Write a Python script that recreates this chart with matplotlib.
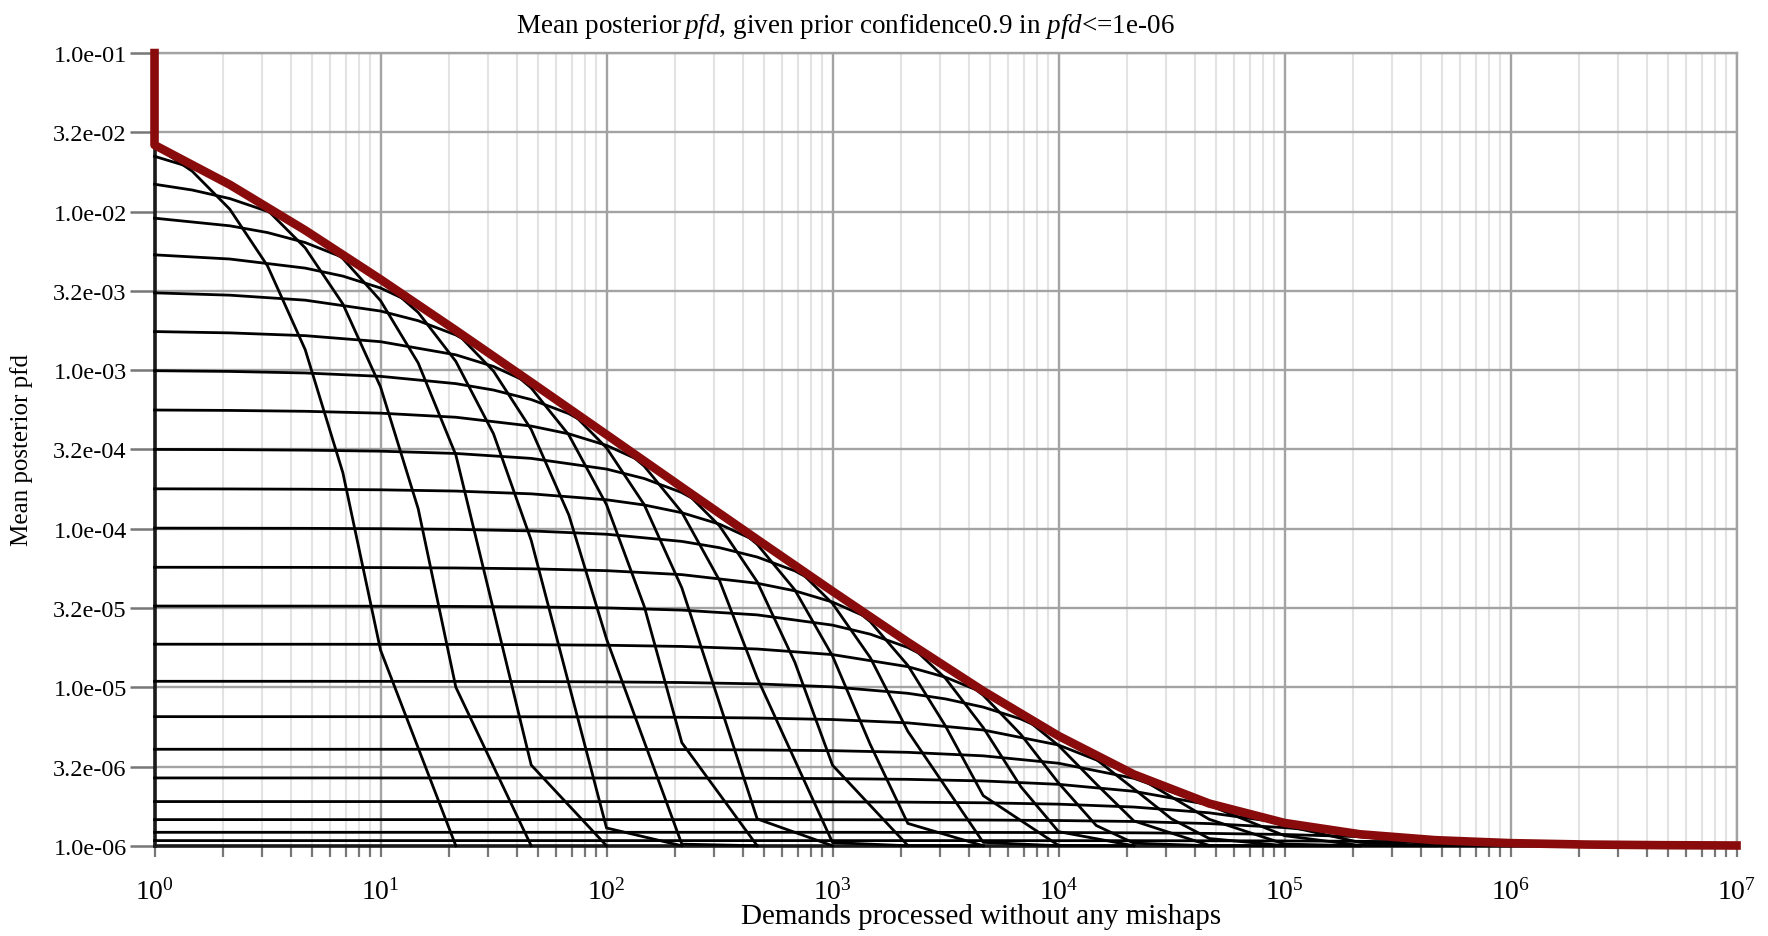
import matplotlib
matplotlib.use("Agg")
import matplotlib.pyplot as plt
from matplotlib.ticker import LogLocator, NullFormatter, FixedLocator

plt.rcParams['font.family'] = ['Liberation Serif', 'DejaVu Serif']
plt.rcParams['mathtext.fontset'] = 'custom'
plt.rcParams['mathtext.rm'] = 'Liberation Serif'
plt.rcParams['mathtext.it'] = 'Liberation Serif:italic'

# demands at which every curve was sampled (1/3 decade steps)
demands = [1, 2.154, 4.642, 10, 21.54, 46.42, 100, 215.4, 464.2, 1000, 2154, 4642,
           1e4, 2.154e4, 4.642e4, 1e5, 2.154e5, 4.642e5, 1e6, 2.154e6, 4.642e6, 1e7]
# extra samples half way, used where a curve bends hard
demands_mid = [1.468, 3.162, 6.813, 14.68, 31.62, 68.13, 146.8, 316.2, 681.3, 1468,
               3162, 6813, 1.468e4, 3.162e4, 6.813e4]

# mean posterior pfd, one curve per alternative pfd value
c01 = [2.608e-2, 1.035e-2, 1.347e-3, 1.715e-5, 1.0e-6]
c02 = [2.233e-2, 1.477e-2, 5.907e-3, 7.84e-4, 1.0e-5, 1.0e-6]
c03 = [1.488e-2, 1.208e-2, 7.621e-3, 2.744e-3, 2.917e-4, 3.23e-6, 1.0e-6]
c04 = [9.091e-3, 8.136e-3, 6.378e-3, 3.730e-3, 1.136e-3, 8.445e-5, 1.295e-6, 1.0e-6]
c05 = [5.337e-3, 5.023e-3, 4.402e-3, 3.297e-3, 1.741e-3, 4.225e-4, 2.016e-5, 1.024e-6, 1.0e-6]
c06 = [3.073e-3, 2.971e-3, 2.763e-3, 2.359e-3, 1.667e-3, 7.72e-4, 1.417e-4, 4.468e-6, 1.0e-6]
c07 = [1.751e-3, 1.718e-3, 1.650e-3, 1.512e-3, 1.249e-3, 8.205e-4, 3.235e-4, 4.235e-5,
       1.477e-6, 1.0e-6]
c08 = [9.919e-4, 9.816e-4, 9.597e-4, 9.140e-4, 8.222e-4, 6.524e-4, 3.918e-4, 1.269e-4,
       1.146e-5, 1.048e-6, 1.0e-6]
c09 = [5.604e-4, 5.571e-4, 5.501e-4, 5.353e-4, 5.046e-4, 4.439e-4, 3.353e-4, 1.805e-4,
       4.623e-5, 3.222e-6, 1.003e-6, 1.0e-6]
c10 = [3.162e-4, 3.152e-4, 3.129e-4, 3.082e-4, 2.982e-4, 2.776e-4, 2.377e-4, 1.690e-4,
       7.97e-5, 1.573e-5, 1.383e-6, 1.0e-6]
c11 = [1.784e-4, 1.781e-4, 1.774e-4, 1.759e-4, 1.727e-4, 1.659e-4, 1.522e-4, 1.261e-4,
       8.31e-5, 3.373e-5, 5.272e-6, 1.051e-6, 1.0e-6]
c12 = [1.008e-4, 1.007e-4, 1.005e-4, 1.0e-4, 9.898e-5, 9.681e-5, 9.226e-5, 8.314e-5,
       6.624e-5, 4.025e-5, 1.373e-5, 2.071e-6, 1.005e-6, 1.0e-6]
c13 = [5.710e-5, 5.707e-5, 5.700e-5, 5.685e-5, 5.652e-5, 5.583e-5, 5.436e-5, 5.131e-5,
       4.527e-5, 3.445e-5, 1.901e-5, 5.566e-6, 1.228e-6, 1.0e-6]
c14 = [3.251e-5, 3.250e-5, 3.248e-5, 3.243e-5, 3.233e-5, 3.211e-5, 3.164e-5, 3.065e-5,
       2.860e-5, 2.464e-5, 1.781e-5, 8.903e-6, 2.490e-6, 1.039e-6, 1.0e-6]
c15 = [1.868e-5, 1.867e-5, 1.867e-5, 1.865e-5, 1.862e-5, 1.855e-5, 1.840e-5, 1.808e-5,
       1.742e-5, 1.606e-5, 1.348e-5, 9.242e-6, 4.290e-6, 1.435e-6, 1.005e-6, 1.0e-6]
c16 = [1.090e-5, 1.090e-5, 1.090e-5, 1.089e-5, 1.088e-5, 1.086e-5, 1.081e-5, 1.071e-5,
       1.050e-5, 1.005e-5, 9.155e-6, 7.491e-6, 4.925e-6, 2.287e-6, 1.111e-6, 1.001e-6, 1.0e-6]
c17 = [6.523e-6, 6.522e-6, 6.522e-6, 6.520e-6, 6.517e-6, 6.510e-6, 6.496e-6, 6.464e-6,
       6.397e-6, 6.255e-6, 5.959e-6, 5.373e-6, 4.320e-6, 2.807e-6, 1.469e-6, 1.025e-6, 1.0e-6]
c18 = [4.062e-6, 4.062e-6, 4.062e-6, 4.061e-6, 4.060e-6, 4.058e-6, 4.054e-6, 4.044e-6,
       4.023e-6, 3.979e-6, 3.885e-6, 3.692e-6, 3.315e-6, 2.664e-6, 1.800e-6, 1.158e-6,
       1.005e-6, 1.0e-6]
c19 = [2.678e-6, 2.678e-6, 2.678e-6, 2.678e-6, 2.677e-6, 2.677e-6, 2.675e-6, 2.673e-6,
       2.666e-6, 2.653e-6, 2.624e-6, 2.564e-6, 2.441e-6, 2.206e-6, 1.814e-6, 1.341e-6,
       1.050e-6, 1.001e-6, 1.0e-6]
c20 = [1.900e-6, 1.900e-6, 1.900e-6, 1.900e-6, 1.900e-6, 1.899e-6, 1.899e-6, 1.898e-6,
       1.897e-6, 1.893e-6, 1.884e-6, 1.867e-6, 1.830e-6, 1.755e-6, 1.614e-6, 1.389e-6,
       1.142e-6, 1.015e-6, 1.0e-6]
c21 = [1.462e-6, 1.462e-6, 1.462e-6, 1.462e-6, 1.462e-6, 1.462e-6, 1.462e-6, 1.462e-6,
       1.461e-6, 1.460e-6, 1.458e-6, 1.454e-6, 1.443e-6, 1.423e-6, 1.380e-6, 1.302e-6,
       1.182e-6, 1.059e-6, 1.005e-6, 1.0e-6]
c22 = [1.216e-6, 1.216e-6, 1.216e-6, 1.216e-6, 1.216e-6, 1.216e-6, 1.216e-6, 1.216e-6,
       1.216e-6, 1.216e-6, 1.215e-6, 1.214e-6, 1.212e-6, 1.207e-6, 1.197e-6, 1.178e-6,
       1.141e-6, 1.085e-6, 1.027e-6, 1.002e-6, 1.0e-6]
c23 = [1.078e-6, 1.078e-6, 1.078e-6, 1.078e-6, 1.078e-6, 1.078e-6, 1.078e-6, 1.078e-6,
       1.078e-6, 1.078e-6, 1.078e-6, 1.078e-6, 1.077e-6, 1.077e-6, 1.075e-6, 1.073e-6,
       1.067e-6, 1.056e-6, 1.038e-6, 1.016e-6, 1.002e-6, 1.0e-6]

# half-way samples of the same curves (first one sits at demands_mid[start])
m01 = [1.798e-2, 4.546e-3, 2.254e-4]
m02 = [1.891e-2, 1.022e-2, 2.615e-3, 1.335e-4]
m03 = [1.368e-2, 1.004e-2, 5.056e-3, 1.109e-3]
m04 = [7.376e-3, 5.141e-3, 2.312e-3, 3.966e-4]
m05 = [3.919e-3, 2.551e-3, 9.859e-4, 1.219e-4]
m06 = [2.050e-3, 1.223e-3, 3.898e-4, 3.240e-5]
m07 = [1.055e-3, 5.645e-4, 1.418e-4]
m08 = [7.49e-4, 5.315e-4, 2.482e-4, 4.713e-5]
m09 = [3.965e-4, 2.614e-4, 1.041e-4, 1.437e-5]
m10 = [2.072e-4, 1.250e-4, 4.11e-5, 4.362e-6]
m11 = [1.411e-4, 1.068e-4, 5.789e-5, 1.539e-5]
m12 = [7.586e-5, 5.419e-5, 2.595e-5, 5.685e-6]
m13 = [4.055e-5, 2.708e-5, 1.137e-5, 2.357e-6]
m14 = [2.161e-5, 1.342e-5, 5.037e-6, 1.343e-6]
m15 = [1.156e-5, 6.699e-6, 2.454e-6]
m16 = [8.439e-6, 6.303e-6, 3.507e-6, 1.478e-6]
mid_start = [0, 0, 0, 1, 2, 3, 4, 4, 5, 6, 6, 7, 8, 9, 10, 10]

# worst case (red) curve, starts with the prior value 0.1 at the first demand
envelope_n = [1, 1, 2.154, 4.642, 10, 21.54, 46.42, 100, 215.4, 464.2, 1000, 2154, 4642,
              1e4, 2.154e4, 4.642e4, 1e5, 2.154e5, 4.642e5, 1e6, 2.154e6, 4.642e6, 1e7]
envelope = [0.1, 2.63e-2, 1.478e-2, 7.626e-3, 3.738e-3, 1.783e-3, 8.383e-4, 3.92e-4,
            1.826e-4, 8.55e-5, 4.03e-5, 1.925e-5, 9.47e-6, 4.93e-6, 2.82e-6, 1.847e-6,
            1.393e-6, 1.182e-6, 1.085e-6, 1.039e-6, 1.018e-6, 1.0085e-6, 1.004e-6]

ytick_vals = [1e-1, 3.162e-2, 1e-2, 3.162e-3, 1e-3, 3.162e-4, 1e-4, 3.162e-5, 1e-5,
              3.162e-6, 1e-6]
ytick_labels = ['1.0e-01', '3.2e-02', '1.0e-02', '3.2e-03', '1.0e-03', '3.2e-04',
                '1.0e-04', '3.2e-05', '1.0e-05', '3.2e-06', '1.0e-06']
xtick_vals = [1, 10, 100, 1e3, 1e4, 1e5, 1e6, 1e7]
xtick_labels = ['$10^{0}$', '$10^{1}$', '$10^{2}$', '$10^{3}$', '$10^{4}$', '$10^{5}$',
                '$10^{6}$', '$10^{7}$']

curves = [c01, c02, c03, c04, c05, c06, c07, c08, c09, c10, c11, c12,
          c13, c14, c15, c16, c17, c18, c19, c20, c21, c22, c23]
mids = [m01, m02, m03, m04, m05, m06, m07, m08, m09, m10, m11, m12, m13, m14, m15, m16]

fig = plt.figure(figsize=(17.68, 9.37), dpi=100)
ax = fig.add_axes([0.0874, 0.0963, 0.8948, 0.846])
ax.set_xscale('log')
ax.set_yscale('log')
ax.set_xlim(1, 1e7)
ax.set_ylim(1e-6, 1e-1)

# ticks and grid
ax.xaxis.set_major_locator(FixedLocator(xtick_vals))
ax.xaxis.set_minor_locator(LogLocator(base=10, subs=range(2, 10), numticks=50))
ax.xaxis.set_minor_formatter(NullFormatter())
ax.set_xticklabels(xtick_labels, fontsize=20)
ax.yaxis.set_major_locator(FixedLocator(ytick_vals))
ax.yaxis.set_minor_locator(FixedLocator([]))
ax.set_yticklabels(ytick_labels, fontsize=17.5)
ax.grid(True, which='major', axis='both', color='#a3a3a3', lw=1.7, zorder=0)
ax.grid(True, which='minor', axis='x', color='#e3e3e3', lw=1.5, zorder=0)
ax.set_axisbelow(True)

ax.tick_params(axis='x', which='both', direction='out', length=8, width=1.6,
               color='#777777', pad=15)
ax.tick_params(axis='y', which='major', direction='out', length=18, width=1.8,
               color='#777777', pad=2)

for s in ['top', 'right']:
    ax.spines[s].set_color('#a3a3a3')
    ax.spines[s].set_linewidth(1.7)
for s in ['left', 'bottom']:
    ax.spines[s].set_color('#1a1a1a')
    ax.spines[s].set_linewidth(2.6)

for i, c in enumerate(curves):
    pts = list(zip(demands, c))
    if i < len(mids):
        for j, v in enumerate(mids[i]):
            pts.append((demands_mid[mid_start[i] + j], v))
    pts.sort()
    xs = [p[0] for p in pts]
    ys = [p[1] for p in pts]
    ax.plot(xs, ys, color='black', lw=2.0, zorder=3, clip_on=False)

ax.plot(envelope_n, envelope, color='#8a0b0b', lw=6.2, zorder=4, clip_on=False)

fig.text(0.478, 0.972, 'Mean posterior$\\,\\mathit{pfd}$, given prior confidence0.9 in '
         '$\\mathit{pfd}$<=1e-06', ha='center', va='center', fontsize=19.5)
fig.text(0.555, 0.021, 'Demands processed without any mishaps', ha='center',
         va='center', fontsize=21)
fig.text(0.012, 0.52, 'Mean posterior pfd', rotation=90, ha='center', va='center',
         fontsize=18)

fig.savefig('out.png', dpi=100)
